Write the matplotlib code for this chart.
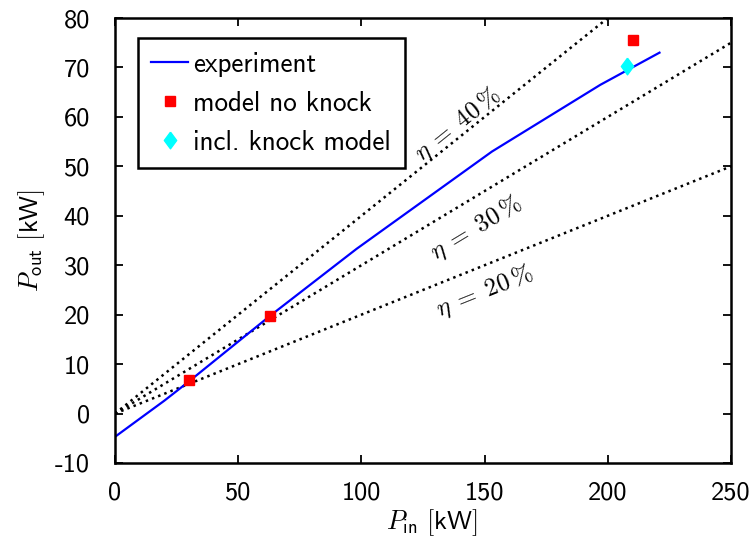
import matplotlib
matplotlib.use("Agg")
import matplotlib.pyplot as plt
import numpy as np

plt.rcParams['mathtext.fontset'] = 'cm'
plt.rcParams['axes.unicode_minus'] = False

# experiment curve (kW)
exp_pin = [0, 20, 30, 63, 98, 153, 197, 221]
exp_pout = [-4.7, 2.6, 6.5, 19.8, 33.3, 53.0, 66.5, 73.0]

# model without knock
mod_pin = [30.2, 63.0, 210.2]
mod_pout = [6.7, 19.8, 75.5]

# model incl. knock
knock_pin = [208.0]
knock_pout = [70.3]

# efficiency lines
etas = [0.4, 0.3, 0.2]
eta_labels = [r'$\eta\;=\;\mathsf{40}\,\%$', r'$\eta\;=\;\mathsf{30}\,\%$',
              r'$\eta\;=\;\mathsf{20}\,\%$']
eta_label_pos = [(139, 58.5), (146.5, 37.6), (150, 24.8)]

sans = 'cmss10'
diamond = [(0, 1), (0.74, 0), (0, -1), (-0.74, 0), (0, 1)]

fig = plt.figure(figsize=(7.52, 5.47), dpi=100)
ax = fig.add_axes([0.153, 0.1536, 0.819, 0.8134])

x_eta = np.array([0, 250])
for eta in etas:
    ax.plot(x_eta, eta * x_eta, color='black', linestyle=':', linewidth=1.8)

ax.plot(exp_pin, exp_pout, color='blue', linewidth=1.6, label='experiment')
ax.plot(mod_pin, mod_pout, linestyle='none', marker='s', color='red',
        markersize=7.5, label='model no knock')
ax.plot(knock_pin, knock_pout, linestyle='none', marker=diamond, color='cyan',
        markersize=12, label='incl. knock model')

ax.set_xlim(0, 250)
ax.set_ylim(-10, 80)

# text rotation follows the line slope on screen
for eta, lab, (tx, ty) in zip(etas, eta_labels, eta_label_pos):
    p0 = ax.transData.transform((0, 0))
    p1 = ax.transData.transform((100, 100 * eta))
    ang = np.degrees(np.arctan2(p1[1] - p0[1], p1[0] - p0[0]))
    ax.text(tx, ty, lab, rotation=ang, fontsize=18, ha='center', va='center',
            rotation_mode='anchor')

ax.set_xticks([0, 50, 100, 150, 200, 250])
ax.set_yticks(range(-10, 81, 10))
ax.tick_params(direction='in', length=6, width=1.3, labelsize=19,
               top=True, right=True)
ax.tick_params(axis='x', pad=13)
ax.tick_params(axis='y', pad=18)
for lbl in ax.get_xticklabels() + ax.get_yticklabels():
    lbl.set_fontfamily(sans)
for s in ax.spines.values():
    s.set_linewidth(1.8)

ax.set_xlabel(r'$P_{\mathsf{in}}\ [\mathsf{kW}]$', fontsize=19)
ax.set_ylabel(r'$P_{\mathsf{out}}\ [\mathsf{kW}]$', fontsize=19, labelpad=6)
ax.xaxis.set_label_coords(0.515, -0.1)

leg = ax.legend(loc='upper left', bbox_to_anchor=(0.037, 0.955), borderaxespad=0,
                prop={'family': sans, 'size': 19.5}, fancybox=False, framealpha=1,
                edgecolor='black', handlelength=1.35, handletextpad=0.2,
                borderpad=0.5, labelspacing=0.52)
leg.get_frame().set_linewidth(1.8)

fig.savefig('out.png', dpi=100)
